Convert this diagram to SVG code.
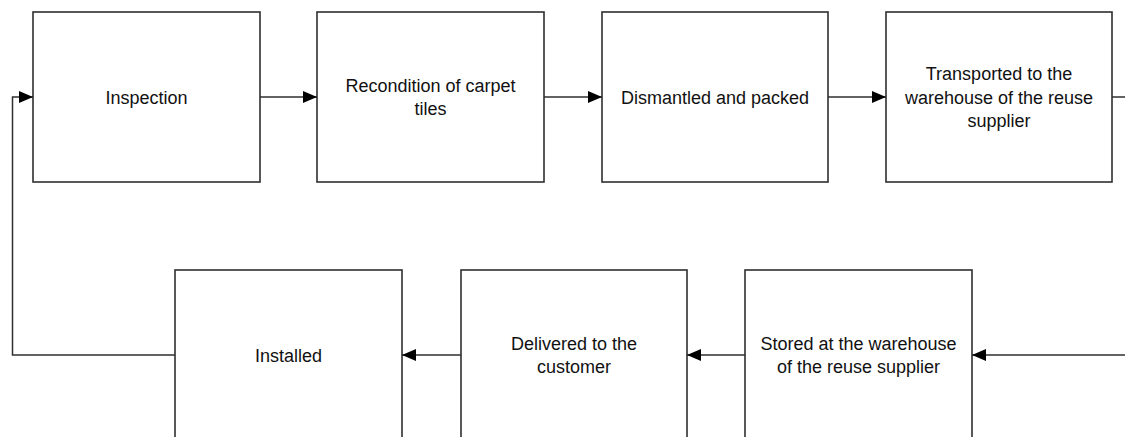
<svg xmlns="http://www.w3.org/2000/svg" width="1125" height="437" viewBox="0 0 1125 437">
  <style>
    .box { fill: #ffffff; stroke: #2f2f2f; stroke-width: 1.6; }
    .lbl { font-family: "Liberation Sans", Arial, Helvetica, sans-serif; font-size: 18px; fill: #111111; text-anchor: middle; }
    .edge { fill: none; stroke: #2f2f2f; stroke-width: 1.5; }
  </style>
  <defs>
    <marker id="arrow" viewBox="0 0 14 12" refX="14" refY="6" markerWidth="14" markerHeight="12" markerUnits="userSpaceOnUse" orient="auto">
      <path d="M0,0 L14,6 L0,12 Z" fill="#000000"/>
    </marker>
  </defs>
  <rect width="1125" height="437" fill="#ffffff"/>

  <!-- top row -->
  <g id="inspection">
    <rect class="box" x="33" y="12" width="227" height="170"/>
    <text class="lbl" x="146.5" y="103.5">Inspection</text>
  </g>
  <g id="recondition">
    <rect class="box" x="317" y="12" width="227" height="170"/>
    <text class="lbl" x="430.5" y="91.8">Recondition of carpet</text>
    <text class="lbl" x="430.5" y="115.2">tiles</text>
  </g>
  <g id="dismantled">
    <rect class="box" x="602" y="12" width="226" height="170"/>
    <text class="lbl" x="715" y="103.5">Dismantled and packed</text>
  </g>
  <g id="transported">
    <rect class="box" x="886" y="12" width="226" height="170"/>
    <text class="lbl" x="999" y="80">Transported to the</text>
    <text class="lbl" x="999" y="103.5">warehouse of the reuse</text>
    <text class="lbl" x="999" y="127">supplier</text>
  </g>

  <!-- bottom row -->
  <g id="installed">
    <rect class="box" x="175" y="270" width="227" height="180"/>
    <text class="lbl" x="288.5" y="361.5">Installed</text>
  </g>
  <g id="delivered">
    <rect class="box" x="461" y="270" width="226" height="180"/>
    <text class="lbl" x="574" y="349.8">Delivered to the</text>
    <text class="lbl" x="574" y="373.3">customer</text>
  </g>
  <g id="stored">
    <rect class="box" x="745" y="270" width="227" height="180"/>
    <text class="lbl" x="858.5" y="349.8">Stored at the warehouse</text>
    <text class="lbl" x="858.5" y="373.3">of the reuse supplier</text>
  </g>

  <!-- connectors -->
  <g id="connectors">
    <path class="edge" d="M260,97 L317,97" marker-end="url(#arrow)"/>
    <path class="edge" d="M544,97 L602,97" marker-end="url(#arrow)"/>
    <path class="edge" d="M828,97 L886,97" marker-end="url(#arrow)"/>
    <path class="edge" d="M1112,97 L1125,97"/>
    <path class="edge" d="M1125,355 L972,355" marker-end="url(#arrow)"/>
    <path class="edge" d="M745,355 L687,355" marker-end="url(#arrow)"/>
    <path class="edge" d="M461,355 L402,355" marker-end="url(#arrow)"/>
    <path class="edge" d="M175,355 L12.5,355 L12.5,97 L33,97" marker-end="url(#arrow)"/>
  </g>
</svg>
